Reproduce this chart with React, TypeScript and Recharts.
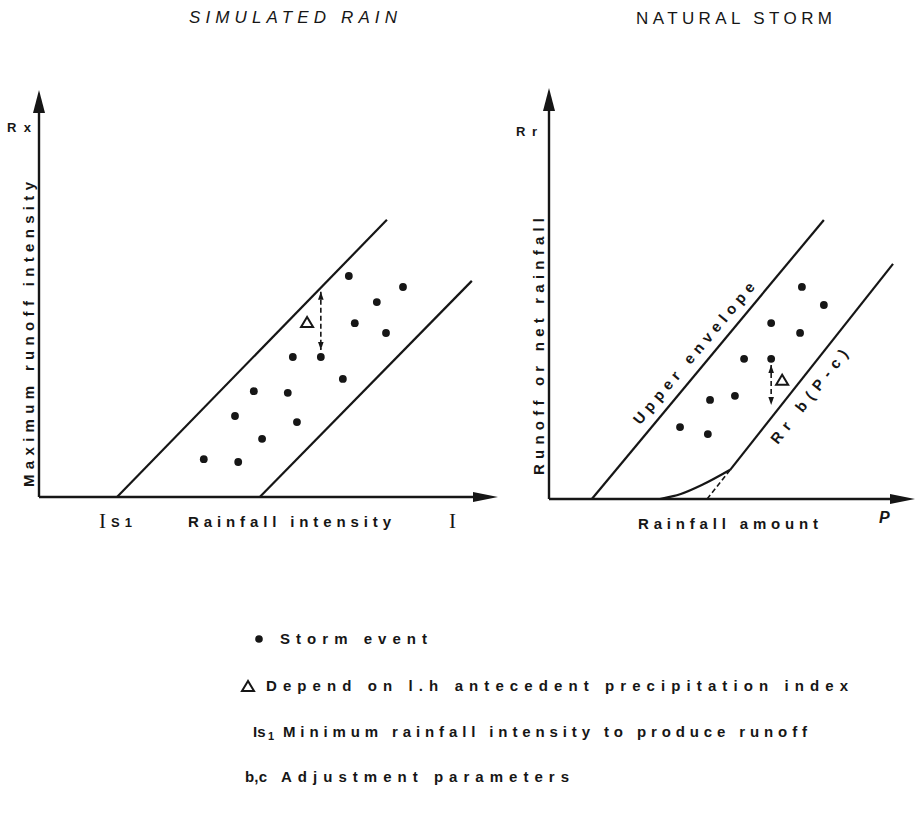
import React from "react";
import {
  ComposedChart,
  Line,
  ReferenceDot,
  ReferenceLine,
  Scatter,
  XAxis,
  YAxis,
} from "recharts";

const INK = "#161616";
const SANS = "'Liberation Sans', Arial, sans-serif";
const SERIF = "'Liberation Serif', 'Times New Roman', serif";

// simulated rain panel, both axes in relative units 0..10
const SIM_EVENTS = [
  { x: 6.75, y: 5.43 },
  { x: 7.93, y: 5.16 },
  { x: 7.36, y: 4.79 },
  { x: 6.88, y: 4.27 },
  { x: 7.56, y: 4.03 },
  { x: 5.53, y: 3.44 },
  { x: 6.14, y: 3.44 },
  { x: 6.62, y: 2.9 },
  { x: 4.68, y: 2.6 },
  { x: 5.42, y: 2.56 },
  { x: 4.27, y: 1.99 },
  { x: 5.62, y: 1.84 },
  { x: 4.86, y: 1.43 },
  { x: 3.59, y: 0.93 },
  { x: 4.34, y: 0.86 },
];
const SIM_UPPER = [{ x: 1.7, y: 0 }, { x: 7.58, y: 6.81 }];
const SIM_LOWER = [{ x: 4.81, y: 0 }, { x: 9.43, y: 5.31 }];
const SIM_DELTA = [{ x: 5.84, y: 4.3 }];
const SIM_GAP = [{ x: 6.14, y: 5.04 }, { x: 6.14, y: 3.61 }];

// natural storm panel
const NAT_EVENTS = [
  { x: 6.91, y: 5.16 },
  { x: 7.51, y: 4.72 },
  { x: 6.07, y: 4.28 },
  { x: 6.86, y: 4.04 },
  { x: 5.33, y: 3.41 },
  { x: 6.07, y: 3.41 },
  { x: 4.4, y: 2.41 },
  { x: 5.08, y: 2.51 },
  { x: 3.58, y: 1.75 },
  { x: 4.34, y: 1.58 },
];
const NAT_UPPER = [{ x: 1.17, y: 0 }, { x: 7.51, y: 6.79 }];
const NAT_LOWER = [{ x: 4.95, y: 0.71 }, { x: 9.4, y: 5.72 }];
const NAT_CURVE = [
  { x: 3.03, y: 0 },
  { x: 3.6, y: 0.12 },
  { x: 4.2, y: 0.35 },
  { x: 4.95, y: 0.71 },
];
const NAT_DASH = [{ x: 4.32, y: 0 }, { x: 4.95, y: 0.71 }];
const NAT_DELTA = [{ x: 6.37, y: 2.9 }];
const NAT_GAP = [{ x: 6.07, y: 3.26 }, { x: 6.07, y: 2.29 }];

const DOMAIN: [number, number] = [0, 10];
const X_AXIS_LINE = [{ x: 0, y: 0 }, { x: 9.5, y: 0 }];
const Y_AXIS_LINE = [{ x: 0, y: 0 }, { x: 0, y: 9.5 }];

function arrow(cx: number, cy: number, dir: "up" | "down" | "right", len: number, half: number) {
  let pts = "";
  if (dir === "up") pts = `${cx},${cy} ${cx - half},${cy + len} ${cx + half},${cy + len}`;
  if (dir === "down") pts = `${cx},${cy} ${cx - half},${cy - len} ${cx + half},${cy - len}`;
  if (dir === "right") pts = `${cx},${cy} ${cx - len},${cy - half} ${cx - len},${cy + half}`;
  return <polygon points={pts} fill={INK} />;
}

const eventDot = (p: any) => <circle cx={p.cx} cy={p.cy} r={3.9} fill={INK} />;

const deltaMark = (p: any) => (
  <polygon
    points={`${p.cx},${p.cy - 5} ${p.cx - 6},${p.cy + 5} ${p.cx + 6},${p.cy + 5}`}
    fill="none"
    stroke={INK}
    strokeWidth={2}
  />
);

function lineLabel(text: string, angle: number, len: number) {
  return (p: any) => (
    <text
      x={p.cx}
      y={p.cy}
      transform={`rotate(${angle} ${p.cx} ${p.cy})`}
      textAnchor="middle"
      dominantBaseline="central"
      textLength={len}
      lengthAdjust="spacing"
      fontFamily={SANS}
      fontWeight={700}
      fontSize={15}
      fill={INK}
    >
      {text}
    </text>
  );
}

function Axes() {
  return [
    <XAxis key="x" type="number" dataKey="x" domain={DOMAIN} allowDataOverflow hide />,
    <YAxis key="y" type="number" dataKey="y" domain={DOMAIN} allowDataOverflow hide />,
    <ReferenceLine key="lx" segment={X_AXIS_LINE} stroke={INK} strokeWidth={2.4} ifOverflow="visible" />,
    <ReferenceLine key="ly" segment={Y_AXIS_LINE} stroke={INK} strokeWidth={2.4} ifOverflow="visible" />,
    <ReferenceDot key="ax" x={10} y={0} ifOverflow="visible" shape={(p: any) => arrow(p.cx, p.cy, "right", 25, 5)} />,
    <ReferenceDot key="ay" x={0} y={10} ifOverflow="visible" shape={(p: any) => arrow(p.cx, p.cy, "up", 23, 6)} />,
  ];
}

function gapArrow(seg: { x: number; y: number }[]) {
  return [
    <ReferenceLine
      key="gl"
      segment={seg}
      stroke={INK}
      strokeWidth={1.6}
      strokeDasharray="5 3"
      ifOverflow="visible"
    />,
    <ReferenceDot key="gt" x={seg[0].x} y={seg[0].y} ifOverflow="visible" shape={(p: any) => arrow(p.cx, p.cy, "up", 8, 2.8)} />,
    <ReferenceDot key="gb" x={seg[1].x} y={seg[1].y} ifOverflow="visible" shape={(p: any) => arrow(p.cx, p.cy, "down", 8, 2.8)} />,
  ];
}

function SimulatedPanel() {
  return (
    <ComposedChart width={505} height={505} margin={{ top: 90, left: 39, right: 7, bottom: 8 }}>
      {Axes()}
      <ReferenceLine segment={SIM_UPPER} stroke={INK} strokeWidth={2.2} ifOverflow="visible" />
      <ReferenceLine segment={SIM_LOWER} stroke={INK} strokeWidth={2.2} ifOverflow="visible" />
      {gapArrow(SIM_GAP)}
      <Scatter data={SIM_EVENTS} dataKey="y" shape={eventDot} isAnimationActive={false} />
      <Scatter data={SIM_DELTA} dataKey="y" shape={deltaMark} isAnimationActive={false} />
    </ComposedChart>
  );
}

function NaturalPanel() {
  return (
    <ComposedChart width={376} height={505} margin={{ top: 88, left: 9, right: 1, bottom: 6 }}>
      {Axes()}
      <ReferenceLine segment={NAT_UPPER} stroke={INK} strokeWidth={2.2} ifOverflow="visible" />
      <ReferenceLine segment={NAT_LOWER} stroke={INK} strokeWidth={2.2} ifOverflow="visible" />
      <ReferenceLine segment={NAT_DASH} stroke={INK} strokeWidth={1.6} strokeDasharray="5 3" ifOverflow="visible" />
      <Line
        data={NAT_CURVE}
        dataKey="y"
        type="monotone"
        stroke={INK}
        strokeWidth={2.2}
        dot={false}
        isAnimationActive={false}
      />
      {gapArrow(NAT_GAP)}
      <Scatter data={NAT_EVENTS} dataKey="y" shape={eventDot} isAnimationActive={false} />
      <Scatter data={NAT_DELTA} dataKey="y" shape={deltaMark} isAnimationActive={false} />
      <ReferenceDot x={3.95} y={3.55} ifOverflow="visible" shape={lineLabel("Upper envelope", -50, 180)} />
      <ReferenceDot x={7.1} y={2.5} ifOverflow="visible" shape={lineLabel("Rr b(P-c)", -52, 115)} />
    </ComposedChart>
  );
}

const txt = { fontFamily: SANS, fontWeight: 700, fontSize: 15, fill: INK } as const;

function Overlay() {
  return (
    <svg width={916} height={820} style={{ position: "absolute", left: 0, top: 0, pointerEvents: "none" }}>
      {/* titles */}
      <text x={189} y={23} textLength={208} lengthAdjust="spacing" fontFamily={SANS} fontStyle="italic" fontSize={17} fill={INK}>
        SIMULATED RAIN
      </text>
      <text x={636} y={24} textLength={196} lengthAdjust="spacing" fontFamily={SANS} fontSize={17} fill={INK}>
        NATURAL STORM
      </text>

      {/* simulated rain axis labels */}
      <text x={7} y={132} textLength={24} lengthAdjust="spacing" {...txt} fontSize={13}>Rx</text>
      <text transform="translate(34 487) rotate(-90)" textLength={305} lengthAdjust="spacing" {...txt}>
        Maximum runoff intensity
      </text>
      <text x={99} y={528} fontFamily={SERIF} fontSize={21} fill={INK}>I</text>
      <text x={111} y={527} textLength={21} lengthAdjust="spacing" {...txt} fontSize={13}>S1</text>
      <text x={188} y={527} textLength={203} lengthAdjust="spacing" {...txt}>Rainfall intensity</text>
      <text x={449} y={528} fontFamily={SERIF} fontSize={21} fill={INK}>I</text>

      {/* natural storm axis labels */}
      <text x={516} y={136} textLength={21} lengthAdjust="spacing" {...txt} fontSize={13}>Rr</text>
      <text transform="translate(544 475) rotate(-90)" textLength={257} lengthAdjust="spacing" {...txt}>
        Runoff or net rainfall
      </text>
      <text x={638} y={529} textLength={180} lengthAdjust="spacing" {...txt}>Rainfall amount</text>
      <text x={879} y={523} {...txt} fontSize={16} fontStyle="italic">P</text>

      {/* legend */}
      <circle cx={259} cy={639} r={3.8} fill={INK} />
      <text x={280} y={644} textLength={147} lengthAdjust="spacing" {...txt}>Storm event</text>
      <polygon points="248,681 242,691 254,691" fill="none" stroke={INK} strokeWidth={2} />
      <text x={266} y={691} textLength={582} lengthAdjust="spacing" {...txt}>
        Depend on l.h antecedent precipitation index
      </text>
      <text x={253} y={737} {...txt}>Is</text>
      <text x={268} y={740} {...txt} fontSize={11}>1</text>
      <text x={283} y={737} textLength={524} lengthAdjust="spacing" {...txt}>
        Minimum rainfall intensity to produce runoff
      </text>
      <text x={245} y={782} textLength={22} lengthAdjust="spacing" {...txt}>b,c</text>
      <text x={281} y={782} textLength={288} lengthAdjust="spacing" {...txt}>Adjustment parameters</text>
    </svg>
  );
}

export default function App() {
  return (
    <div style={{ position: "absolute", left: 0, top: 0, width: 916, height: 820, background: "#fff", overflow: "hidden" }}>
      <div style={{ position: "absolute", left: 0, top: 0 }}>
        <SimulatedPanel />
      </div>
      <div style={{ position: "absolute", left: 540, top: 0 }}>
        <NaturalPanel />
      </div>
      <Overlay />
    </div>
  );
}
